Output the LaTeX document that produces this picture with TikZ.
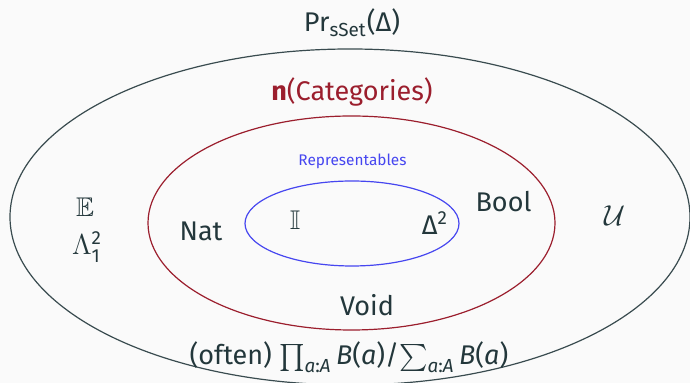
\documentclass[tikz,border=0pt]{standalone}
\usepackage{amsmath,amssymb}
\usepackage{fontspec}
\setmainfont{Fira Sans}
\usepackage{tikz}
\usetikzlibrary{positioning,shapes.geometric}
\definecolor{slidebg}{RGB}{250,250,250}
\definecolor{slidetext}{RGB}{35,55,59}
\definecolor{catred}{RGB}{155,30,45}
\definecolor{repblue}{RGB}{70,70,240}

\begin{document}
\begin{tikzpicture}[x=0.5pt, y=-0.5pt, every node/.style={font=\fontsize{13.5}{16}\selectfont, text=slidetext}]
\tikzset{region/.style={draw, ellipse, inner sep=0pt, line width=0.6pt},
         lbl/.style={anchor=base, inner sep=0pt}}
\fill[slidebg] (0,0) rectangle (690,383);
\useasboundingbox (0,0) rectangle (690,383);

% nested classes
\node[region, draw=slidetext!90, minimum width=340pt, minimum height=168pt] (presh) at (350,217) {};
\node[region, draw=catred, minimum width=203.5pt, minimum height=107pt] (cats) at (351.5,223) {};
\node[region, draw=repblue, minimum width=107pt, minimum height=42.5pt] (reps) at (352,223.5) {};

% class names
\node[lbl] (preshname) at (352,32) {Pr\textsubscript{sSet}(Δ)};
\node[lbl, text=catred] (catsname) at (352,101) {\textbf{n}(Categories)};
\node[lbl, text=repblue, font=\fontsize{7.7}{9}\selectfont] (repsname) at (352.5,166) {Representables};

% members
\node[lbl] (walkiso) at (85,217) {$\mathbb{E}$};
\node[lbl] (horn) at (87,255) {$\Lambda^{\text{2}}_{\text{1}}$};
\node[lbl] (nat) at (201,241) {Nat};
\node[lbl] (interval) at (295,230) {$\mathbb{I}$};
\node[lbl] (simplex) at (435,235) {Δ\textsuperscript{2}};
\node[lbl] (bool) at (503.5,212) {Bool};
\node[lbl] (univ) at (615,226) {$\mathcal{U}$};
\node[lbl] (void) at (367,316) {Void};
\node[lbl] (pisigma) at (349,365) {(often) $\prod_{\text{\textit{a}:\textit{A}}}$\,\textit{B}(\textit{a})/$\sum_{\text{\textit{a}:\textit{A}}}$\,\textit{B}(\textit{a})};
\end{tikzpicture}
\end{document}
